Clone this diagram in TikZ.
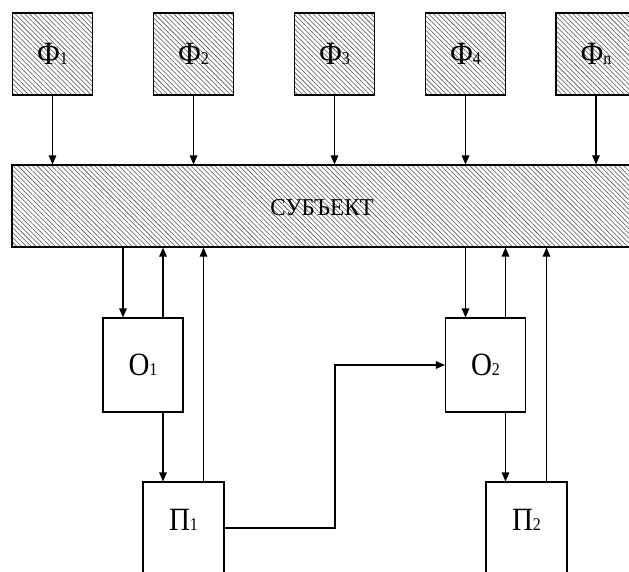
\documentclass[tikz,border=0pt]{standalone}
\usepackage{fontspec}
\setmainfont{Liberation Serif}
\usetikzlibrary{arrows.meta,patterns.meta}
\newcommand\boxlbl[2]{\scalebox{1}[1.12]{\fontsize{29}{29}\selectfont #1\fontsize{16}{16}\selectfont #2}}
\tikzset{
  hatch/.style={draw=black, line width=1.1pt, pattern={Lines[angle=-45,distance=3.4pt,line width=0.55pt]}, pattern color=black!70},
  fbox/.style={hatch, minimum width=80pt, minimum height=82pt, inner sep=0pt},
  obox/.style={draw=black, line width=1.1pt, fill=white, minimum width=80pt, minimum height=94pt, inner sep=0pt},
  pbox/.style={draw=black, line width=1.1pt, fill=white, minimum width=81pt, minimum height=110pt, inner sep=0pt},
  conn/.style={line width=1.1pt, -{Triangle[length=9pt,width=7.5pt]}},
}
\begin{document}
\begin{tikzpicture}[x=1pt,y=-1pt]
\useasboundingbox (0,0) rectangle (629,571);
\clip (0,0) rectangle (629,571);
% top factor boxes
\node[fbox] (F1) at (52.5,54) {\boxlbl{Ф}{1}};
\node[fbox] (F2) at (193.5,54) {\boxlbl{Ф}{2}};
\node[fbox] (F3) at (334.5,54) {\boxlbl{Ф}{3}};
\node[fbox] (F4) at (465.5,54) {\boxlbl{Ф}{4}};
\node[fbox] (Fn) at (596,54) {\boxlbl{Ф}{n}};
% subject
\node[hatch, minimum width=628pt, minimum height=82pt, inner sep=0pt] (S) at (326,206) {};
\node (St) at (322,208) {\scalebox{1}[1.05]{\fontsize{23}{23}\selectfont СУБЪЕКТ}};
% objects
\node[obox] (O1) at (143,365) {\boxlbl{О}{1}};
\node[obox] (O2) at (485.5,365) {\boxlbl{О}{2}};
% П boxes
\node[pbox] (P1) at (183.5,537) {};
\node (P1t) at (183.5,520) {\boxlbl{П}{1}};
\node[pbox] (P2) at (526.5,537) {};
\node (P2t) at (526.5,520) {\boxlbl{П}{2}};
% arrows from factors
\foreach \f in {F1,F2,F3,F4,Fn}{
  \draw[conn] (\f.south) -- (\f.south |- S.north);
}
% subject <-> objects
\draw[conn] ([xshift=-20pt]O1.north |- S.south) -- ([xshift=-20pt]O1.north);
\draw[conn] ([xshift=20pt]O1.north) -- ([xshift=20pt]O1.north |- S.south);
\draw[conn] ([xshift=-20pt]O2.north |- S.south) -- ([xshift=-20pt]O2.north);
\draw[conn] ([xshift=20pt]O2.north) -- ([xshift=20pt]O2.north |- S.south);
% objects -> П
\draw[conn] ([xshift=20pt]O1.south) -- ([xshift=20pt]O1.south |- P1.north);
\draw[conn] ([xshift=20pt]O2.south) -- ([xshift=20pt]O2.south |- P2.north);
% П -> subject
\draw[conn] ([xshift=20pt]P1.north) -- ([xshift=20pt]P1.north |- S.south);
\draw[conn] ([xshift=20pt]P2.north) -- ([xshift=20pt]P2.north |- S.south);
% П1 -> О2
\coordinate (bend) at (335,365);
\draw[conn] (P1.east |- 0,528) -| (bend) -- (O2.west);
\end{tikzpicture}
\end{document}
